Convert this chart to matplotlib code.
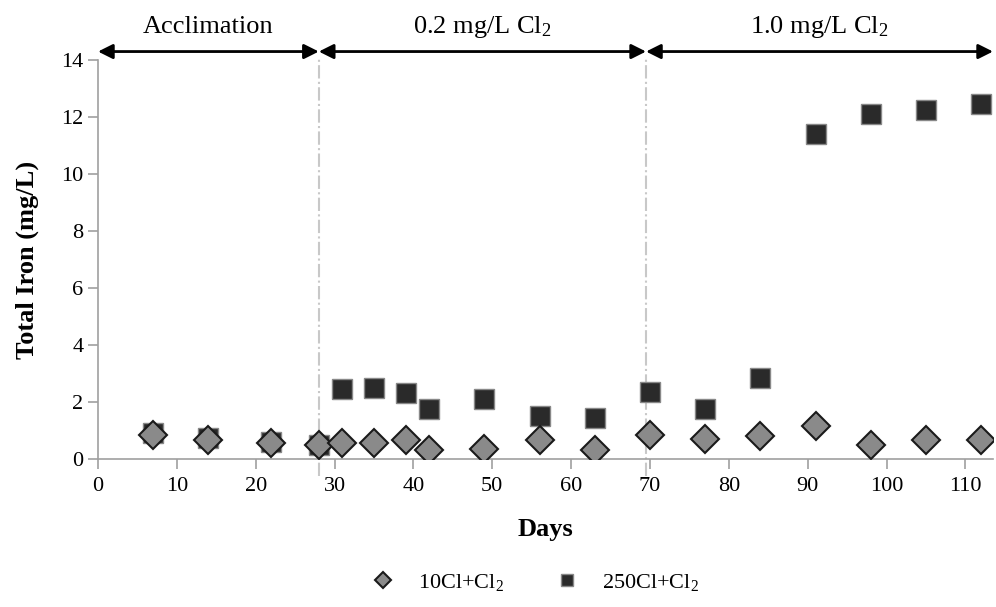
import matplotlib
matplotlib.use('Agg')
import matplotlib.pyplot as plt

plt.rcParams['font.family'] = 'Liberation Serif'
plt.rcParams['mathtext.fontset'] = 'custom'
plt.rcParams['mathtext.rm'] = 'Liberation Serif'
plt.rcParams['mathtext.default'] = 'regular'

# Dati
days = [7, 14, 22, 28, 31, 35, 39, 42, 49, 56, 63, 70, 77, 84, 91, 98, 105, 112]
iron_10cl = [0.85, 0.65, 0.55, 0.5, 0.55, 0.55, 0.65, 0.3, 0.35, 0.65, 0.3,
             0.85, 0.7, 0.8, 1.15, 0.5, 0.65, 0.65]
iron_250cl = [0.9, 0.75, 0.6, 0.5, 2.45, 2.5, 2.3, 1.75, 2.1, 1.5, 1.45,
              2.35, 1.75, 2.85, 11.4, 12.1, 12.25, 12.45]

phase_bounds = [0, 28, 69.5, 113.5]
phase_labels = ['Acclimation', '0.2 mg/L Cl$_2$', '1.0 mg/L Cl$_2$']

fig = plt.figure(figsize=(9.96, 6.07), dpi=100)
ax = fig.add_axes([0.0984, 0.2438, 0.8986, 0.6572])

ax.plot(days, iron_10cl, linestyle='none', marker='D', markersize=14,
        markerfacecolor='#8a8a8a', markeredgecolor='#1a1a1a', markeredgewidth=1.5,
        label='10Cl+Cl$_2$', zorder=4)
ax.plot(days, iron_250cl, linestyle='none', marker='s', markersize=14,
        markerfacecolor='#2a2a2a', markeredgecolor='#888888', markeredgewidth=1.0,
        label='250Cl+Cl$_2$', zorder=3)

# Linee verticali tra le fasi
for xb in phase_bounds[1:-1]:
    ax.plot([xb, xb], [-0.6, 14.1], color='#c8c8c8', linestyle='-.', linewidth=1.5,
            clip_on=False, zorder=1)

# Frecce e etichette delle fasi
for i in range(len(phase_labels)):
    x0, x1 = phase_bounds[i], phase_bounds[i + 1]
    ax.annotate('', xy=(x0, 14.3), xytext=(x1, 14.3), annotation_clip=False,
                arrowprops=dict(arrowstyle='<|-|>', color='black', lw=2,
                                mutation_scale=22, shrinkA=0, shrinkB=0))
    ax.text((x0 + x1) / 2, 14.95, phase_labels[i], ha='center', va='baseline',
            fontsize=19, clip_on=False)

ax.set_xlim(0, 113.5)
ax.set_ylim(0, 14)
ax.set_xticks(range(0, 111, 10))
ax.set_yticks(range(0, 15, 2))
ax.tick_params(axis='both', labelsize=16, color='#a0a0a0', length=7, width=1.2)
ax.tick_params(axis='x', pad=6)
for side in ['top', 'right']:
    ax.spines[side].set_visible(False)
for side in ['left', 'bottom']:
    ax.spines[side].set_color('#a0a0a0')
    ax.spines[side].set_linewidth(1.2)

ax.set_xlabel('Days', fontsize=19, fontweight='bold', labelpad=16)
ax.set_ylabel('Total Iron (mg/L)', fontsize=19, fontweight='bold', labelpad=16)

fig.legend(loc='center', bbox_to_anchor=(0.532, 0.04), ncol=2, frameon=False,
           fontsize=16, markerscale=0.6, handletextpad=0.6, columnspacing=1.8)

fig.savefig('out.png', dpi=100)
